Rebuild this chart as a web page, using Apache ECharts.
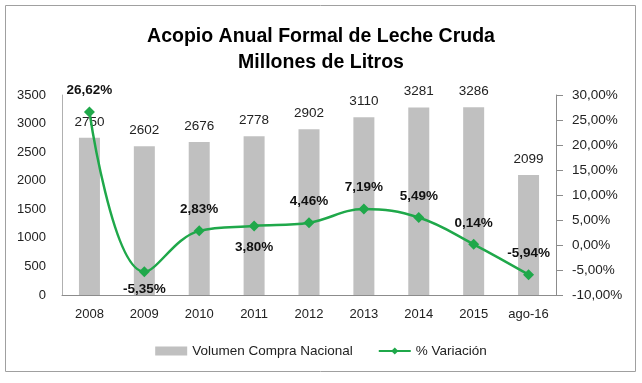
<!DOCTYPE html>
<html><head><meta charset="utf-8">
<script src="https://cdn.jsdelivr.net/npm/echarts@6/dist/echarts.min.js"></script>
<style>html,body{margin:0;padding:0;background:#fff}#c{width:642px;height:383px}</style>
</head><body><div id="c"></div>
<script>
var categories = ['2008','2009','2010','2011','2012','2013','2014','2015','ago-16'];
var volumen = [2750, 2602, 2676, 2778, 2902, 3110, 3281, 3286, 2099];
var variacion = [26.62, -5.35, 2.83, 3.80, 4.46, 7.19, 5.49, 0.14, -5.94];
var labelPos = ['top','bottom','top','bottom','top','top','top','top','top'];
var leftTicks = [0, 3500, 500];
var rightTicks = [-10, 30, 5];

function pct(v){ return v.toFixed(2).replace('.', ',') + '%'; }

var chart = echarts.init(document.getElementById('c'));
var font = 'Liberation Sans, Arial, sans-serif';
chart.setOption({
  animation: false,
  graphic: [{type:'rect', shape:{x:5.5,y:5.5,width:630,height:366}, style:{fill:'none', stroke:'#a0a0a0', lineWidth:1}}],
  title: {
    text: 'Acopio Anual Formal de Leche Cruda\nMillones de Litros',
    left: 'center', top: 19,
    textStyle: {fontFamily: font, fontSize: 19.5, fontWeight: 'bold', color: '#000', lineHeight: 26}
  },
  legend: {
    bottom: 20, left: 'center', itemGap: 25, itemWidth: 32, itemHeight: 9,
    textStyle: {fontFamily: font, fontSize: 13.5, color: '#222'},
    data: [{name:'Volumen Compra Nacional', icon:'rect'}, {name:'% Variación'}]
  },
  grid: {left: 62, right: 86, top: 95, bottom: 88},
  xAxis: {
    type: 'category', data: categories,
    axisLine: {lineStyle: {color: '#8c8c8c'}},
    axisTick: {show: false},
    axisLabel: {fontFamily: font, fontSize: 13, color: '#222', margin: 13}
  },
  yAxis: [{
    type: 'value', min: leftTicks[0], max: leftTicks[1], interval: leftTicks[2],
    axisLine: {show: true, lineStyle: {color: '#b0b0b0'}},
    axisTick: {show: false}, splitLine: {show: false},
    axisLabel: {fontFamily: font, fontSize: 13, color: '#222', margin: 16, formatter: function(v){return String(v);}}
  },{
    type: 'value', min: rightTicks[0], max: rightTicks[1], interval: rightTicks[2],
    axisLine: {show: true, lineStyle: {color: '#8c8c8c'}},
    axisTick: {show: true, length: 7, lineStyle: {color: '#8c8c8c'}}, splitLine: {show: false},
    axisLabel: {fontFamily: font, fontSize: 13.5, color: '#222', margin: 16, formatter: function(v){return pct(v);}}
  }],
  series: [{
    name: 'Volumen Compra Nacional', type: 'bar', data: volumen, barWidth: 21,
    itemStyle: {color: '#c0c0c0'},
    label: {show: true, position: 'top', distance: 9, fontFamily: font, fontSize: 13.5, color: '#222'}
  },{
    name: '% Variación', type: 'line', yAxisIndex: 1, smooth: 0.4,
    data: variacion.map(function(v,i){return {value:v, label:{position: labelPos[i], distance: i === 1 ? 5 : 9}};}),
    symbol: 'diamond', symbolSize: 11,
    lineStyle: {color: '#1fa84a', width: 2.5},
    itemStyle: {color: '#1fa84a'},
    label: {show: true, distance: 9, fontFamily: font, fontSize: 13.5, fontWeight: 'bold', color: '#111', formatter: function(p){return pct(p.value);}},
    z: 5
  }]
});
</script></body></html>
